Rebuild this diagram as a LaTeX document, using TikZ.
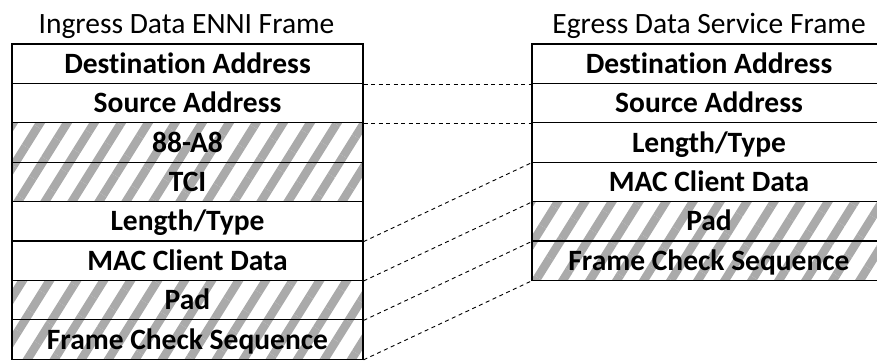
\documentclass[tikz,border=0pt]{standalone}
\usepackage{fontspec}
\setmainfont{Carlito}[Ligatures=NoCommon]
\usetikzlibrary{patterns.meta}
\definecolor{hatch}{RGB}{170,170,170}
\tikzset{
  field/.style={draw=black, line width=1.2pt, minimum width=351pt, minimum height=39.4pt,
    inner sep=0pt, text height=19pt, text depth=0pt,
    font=\fontsize{29.5pt}{35pt}\selectfont\bfseries},
  rfield/.style={field, minimum width=354pt},
  hatched/.style={pattern={Lines[angle=58, distance=22.9pt, line width=8.5pt]}, pattern color=hatch},
  title/.style={inner sep=0pt, text height=19pt, text depth=0pt,
    font=\fontsize{29.5pt}{35pt}\selectfont},
  link/.style={draw=black, line width=0.9pt, dash pattern=on 4pt off 3.5pt}
}
\begin{document}
\begin{tikzpicture}[x=1pt, y=-1pt]
\useasboundingbox (0,0) rectangle (877,360);
% titles
\node[title] (tl) at (186.5,24) {Ingress Data ENNI Frame};
\node[title] (tr) at (709,24) {Egress Data Service Frame};
% left frame
\node[field] (L1) at (187.5,63.7) {Destination Address};
\node[field] (L2) at (187.5,103.1) {Source Address};
\node[field,hatched] (L3) at (187.5,142.5) {88-A8};
\node[field,hatched] (L4) at (187.5,181.9) {TCI};
\node[field] (L5) at (187.5,221.3) {Length/Type};
\node[field] (L6) at (187.5,260.7) {MAC Client Data};
\node[field,hatched] (L7) at (187.5,300.1) {Pad};
\node[field,hatched] (L8) at (187.5,339.5) {Frame Check Sequence};
% right frame
\node[rfield] (R1) at (709,63.7) {Destination Address};
\node[rfield] (R2) at (709,103.1) {Source Address};
\node[rfield] (R3) at (709,142.5) {Length/Type};
\node[rfield] (R4) at (709,181.9) {MAC Client Data};
\node[rfield,hatched] (R5) at (709,221.3) {Pad};
\node[rfield,hatched] (R6) at (709,260.7) {Frame Check Sequence};
% connectors
\draw[link] (L1.south east) -- (R1.south west);
\draw[link] (L2.south east) -- (R2.south west);
\draw[link] (L5.south east) -- (R3.south west);
\draw[link] (L6.south east) -- (R4.south west);
\draw[link] (L7.south east) -- (R5.south west);
\draw[link] (L8.south east) -- (R6.south west);
\end{tikzpicture}
\end{document}
